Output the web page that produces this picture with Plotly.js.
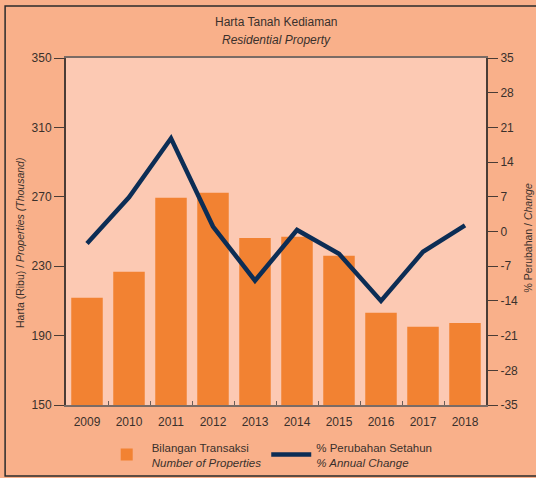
<!DOCTYPE html>
<html>
<head>
<meta charset="utf-8">
<script src="https://cdn.plot.ly/plotly-3.0.1.min.js"></script>
<style>
  html, body { margin: 0; padding: 0; background: #ffffff; }
  #chart { width: 536px; height: 478px; }
</style>
</head>
<body>
<div id="chart"></div>
<script>
  // Values.
  var YEARS = ["2009", "2010", "2011", "2012", "2013", "2014", "2015", "2016", "2017", "2018"];
  var PROPERTIES_THOUSAND = [211.8, 226.8, 269.5, 272.4, 246.3, 247.0, 236.0, 203.2, 195.1, 197.3];
  var ANNUAL_CHANGE = [-2.4, 6.9, 18.8, 1.0, -9.9, 0.3, -4.5, -14.0, -4.1, 1.25];
  var LEFT_TICKS = [150, 190, 230, 270, 310, 350];
  var RIGHT_TICKS = [-35, -28, -21, -14, -7, 0, 7, 14, 21, 28, 35];

  var FONT = "'Liberation Sans Narrow', 'Liberation Sans', Arial, sans-serif";
  var INK = "#3a302c";
  var AXIS = "#4a3c36";

  var traces = [
    {
      type: "bar",
      name: "Bilangan Transaksi<br><i>Number of Properties</i>",
      x: YEARS,
      y: PROPERTIES_THOUSAND,
      marker: { color: "#f28232" },
      yaxis: "y"
    },
    {
      type: "scatter",
      mode: "lines",
      name: "% Perubahan Setahun<br><i>% Annual Change</i>",
      x: YEARS,
      y: ANNUAL_CHANGE,
      line: { color: "#0c2d55", width: 4.5 },
      yaxis: "y2"
    }
  ];

  // Axis titles sit slightly below the plot centre in the original, so they
  // are placed as rotated annotations rather than axis titles.
  function sideTitle(text, x, y) {
    return {
      xref: "paper", yref: "paper", x: x, y: y,
      xanchor: "center", yanchor: "middle",
      textangle: -90, text: text, showarrow: false,
      font: { family: FONT, size: 10.5, color: INK }
    };
  }

  var layout = {
    width: 536,
    height: 478,
    margin: { l: 66, r: 50, t: 58, b: 73, autoexpand: false },
    paper_bgcolor: "#f9b08a",
    plot_bgcolor: "#fcc9b3",
    font: { family: FONT, size: 12, color: INK },
    bargap: 0.25,
    showlegend: true,
    legend: {
      orientation: "h",
      x: 0.085, xanchor: "left",
      y: -0.081, yanchor: "top",
      bgcolor: "rgba(0,0,0,0)",
      font: { family: FONT, size: 11.5, color: INK },
      itemwidth: 40,
      tracegroupgap: 0
    },
    xaxis: {
      type: "category",
      range: [-0.5, 9.5],
      tickson: "boundaries",
      ticks: "inside",
      ticklen: 4,
      tickcolor: "#6d5e58",
      ticklabelstandoff: 5,
      showline: true,
      linecolor: "#7a6b65",
      linewidth: 2,
      mirror: true,
      showgrid: false,
      zeroline: false,
      fixedrange: true
    },
    yaxis: {
      range: [150, 350],
      tickvals: LEFT_TICKS,
      ticks: "outside",
      ticklen: 10,
      tickcolor: AXIS,
      showline: true,
      linecolor: AXIS,
      linewidth: 2,
      showgrid: false,
      zeroline: false
    },
    yaxis2: {
      overlaying: "y",
      side: "right",
      range: [-35, 35],
      tickvals: RIGHT_TICKS,
      ticktext: RIGHT_TICKS.map(String),
      ticks: "outside",
      ticklen: 10,
      tickcolor: AXIS,
      showline: true,
      linecolor: AXIS,
      linewidth: 2,
      showgrid: false,
      zeroline: false
    },
    annotations: [
      {
        xref: "paper", yref: "paper", x: 0.5, y: 1, yanchor: "middle", yshift: 36,
        text: "Harta Tanah Kediaman",
        showarrow: false, font: { family: FONT, size: 12, color: INK }
      },
      {
        xref: "paper", yref: "paper", x: 0.5, y: 1, yanchor: "middle", yshift: 18,
        text: "<i>Residential Property</i>",
        showarrow: false, font: { family: FONT, size: 12, color: INK }
      },
      sideTitle("Harta (Ribu) / <i>Properties (Thousand)</i>", -0.1095, 0.467),
      sideTitle("% Perubahan / <i>Change</i>", 1.1, 0.48)
    ],
    shapes: [
      {
        type: "rect", xref: "paper", yref: "paper",
        x0: -0.145, x1: 1.2, y0: -0.2046, y1: 1.15,
        line: { color: "#2b2b2b", width: 1.5 }, layer: "below"
      }
    ]
  };

  Plotly.newPlot("chart", traces, layout, { displayModeBar: false, staticPlot: true });
</script>
</body>
</html>
